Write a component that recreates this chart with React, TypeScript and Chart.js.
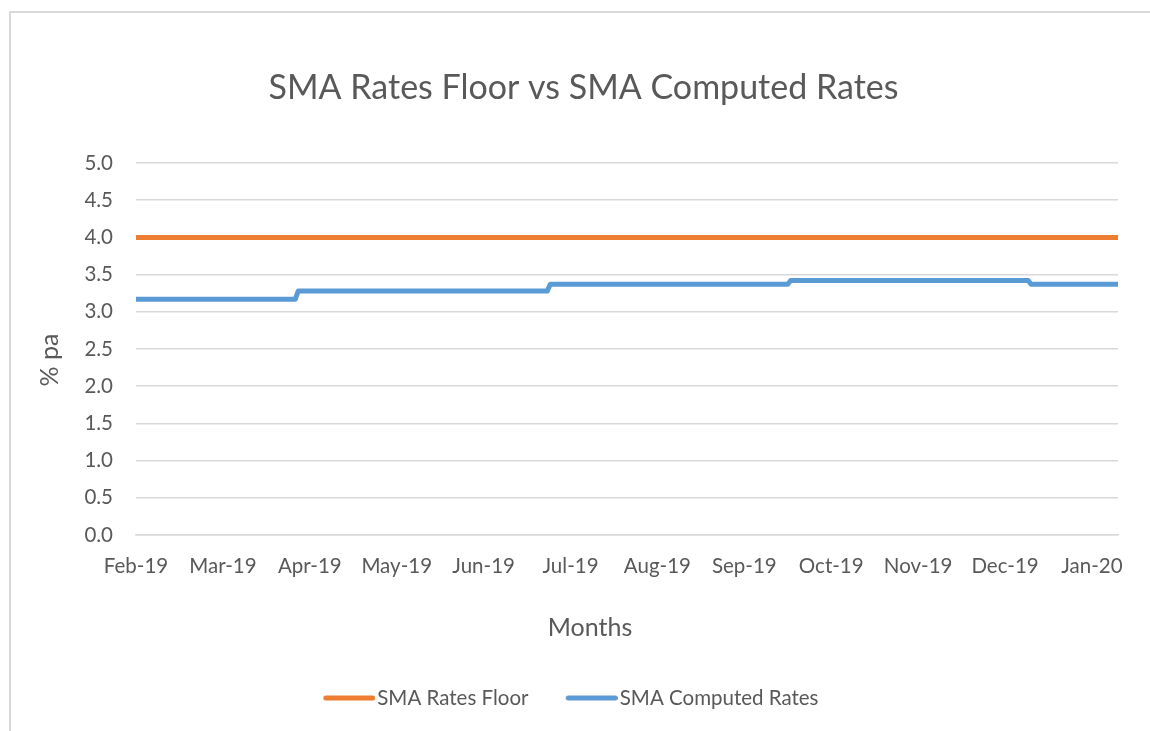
import React, { useEffect, useRef } from "react";
import { Chart, registerables } from "chart.js";

Chart.register(...registerables);

const chartTitle = "SMA Rates Floor vs SMA Computed Rates";
const xAxisTitle = "Months";
const yAxisTitle = "% pa";
const monthLabels = ["Feb-19", "Mar-19", "Apr-19", "May-19", "Jun-19", "Jul-19", "Aug-19", "Sep-19", "Oct-19", "Nov-19", "Dec-19", "Jan-20"];
const daysPerLabel = 30;
const lastDay = 339;

// SMA Rates Floor (day index, % pa)
const floorDays = [0, 339];
const floorRates = [4.0, 4.0];

// SMA Computed Rates (day index, % pa) - values at the start/end of each level
const computedDays = [0, 55, 56, 142, 143, 225, 226, 308, 309, 339];
const computedRates = [3.17, 3.17, 3.28, 3.28, 3.37, 3.37, 3.42, 3.42, 3.37, 3.37];

const yTicks = [0, 0.5, 1, 1.5, 2, 2.5, 3, 3.5, 4, 4.5, 5];

const TEXT = "#595959";
const GRID = "#d9d9d9";
const FONT = "Lato, 'Noto Sans', sans-serif";
const ORANGE = "#ED7D31";
const BLUE = "#5B9BD5";

function legendLine(color: string) {
  const c = document.createElement("canvas");
  c.width = 74;
  c.height = 6;
  const ctx = c.getContext("2d")!;
  ctx.strokeStyle = color;
  ctx.lineWidth = 5;
  ctx.lineCap = "round";
  ctx.beginPath();
  ctx.moveTo(24.5, 3);
  ctx.lineTo(71.5, 3);
  ctx.stroke();
  return c;
}

const framePlugin = {
  id: "frame",
  beforeDraw(chart: any) {
    const ctx = chart.ctx;
    ctx.save();
    ctx.fillStyle = "#ffffff";
    ctx.fillRect(0, 0, chart.width, chart.height);
    ctx.strokeStyle = GRID;
    ctx.lineWidth = 2;
    ctx.beginPath();
    ctx.moveTo(10, chart.height);
    ctx.lineTo(10, 12);
    ctx.lineTo(chart.width, 12);
    ctx.stroke();
    ctx.restore();
  },
};

const titlesPlugin = {
  id: "titles",
  afterDraw(chart: any) {
    const ctx = chart.ctx;
    ctx.save();
    ctx.fillStyle = TEXT;
    ctx.textAlign = "center";
    ctx.textBaseline = "middle";
    ctx.font = `normal 34px ${FONT}`;
    ctx.fillText(chartTitle, 583.5, 88);
    ctx.font = `normal 25px ${FONT}`;
    ctx.fillText(xAxisTitle, 590, 628);
    ctx.translate(50, 360);
    ctx.rotate(-Math.PI / 2);
    ctx.fillText(yAxisTitle, 0, 0);
    ctx.restore();
  },
};

export default function App() {
  const ref = useRef<HTMLCanvasElement>(null);
  useEffect(() => {
    if (!ref.current) return;
    const chart = new Chart(ref.current, {
      type: "line",
      data: {
        datasets: [
          {
            label: "SMA Rates Floor",
            data: floorDays.map((d, i) => ({ x: d, y: floorRates[i] })),
            borderColor: ORANGE,
            backgroundColor: ORANGE,
            borderWidth: 5,
            pointRadius: 0,
            pointStyle: legendLine(ORANGE),
            borderCapStyle: "round",
            borderJoinStyle: "round",
            tension: 0,
          },
          {
            label: "SMA Computed Rates",
            data: computedDays.map((d, i) => ({ x: d, y: computedRates[i] })),
            borderColor: BLUE,
            backgroundColor: BLUE,
            borderWidth: 5,
            pointRadius: 0,
            pointStyle: legendLine(BLUE),
            borderCapStyle: "round",
            borderJoinStyle: "round",
            tension: 0,
          },
        ],
      },
      options: {
        animation: false,
        responsive: false,
        layout: { padding: { left: 10, right: 32, top: 163, bottom: 12.75 } },
        font: { family: FONT },
        plugins: {
          tooltip: { enabled: false },
          title: { display: false },
          legend: {
            position: "bottom",
            labels: {
              color: TEXT,
              font: { family: FONT, size: 20.5 },
              usePointStyle: true,
              pointStyleWidth: 57.5,
              padding: 23.5,
            },
          },
        },
        scales: {
          x: {
            type: "linear",
            min: 0,
            max: lastDay,
            grid: { display: false, drawTicks: false },
            border: { display: true, color: GRID, width: 1.5 },
            afterBuildTicks: (scale: any) => {
              scale.ticks = monthLabels.map((_, i) => ({ value: i * daysPerLabel }));
            },
            afterFit: (scale: any) => {
              scale.height = 129.25;
            },
            ticks: {
              autoSkip: false,
              maxRotation: 0,
              color: TEXT,
              font: { family: FONT, size: 20.5 },
              padding: 19,
              callback: (v: any) => monthLabels[Math.round(Number(v) / daysPerLabel)] ?? "",
            },
          },
          y: {
            min: 0,
            max: 5,
            afterBuildTicks: (scale: any) => {
              scale.ticks = yTicks.map((v) => ({ value: v }));
            },
            afterFit: (scale: any) => {
              scale.width = 126;
            },
            grid: { color: GRID, lineWidth: 1.5, drawTicks: false },
            border: { display: false },
            ticks: {
              color: TEXT,
              font: { family: FONT, size: 20.5 },
              padding: 23,
              callback: (v: any) => Number(v).toFixed(1),
            },
          },
        },
      },
      plugins: [framePlugin, titlesPlugin],
    } as any);
    return () => chart.destroy();
  }, []);
  return (
    <div style={{ position: "fixed", left: 0, top: 0, width: 1150, height: 731, background: "#fff", overflow: "hidden" }}>
      <canvas ref={ref} width={1150} height={731} style={{ display: "block" }} />
    </div>
  );
}
